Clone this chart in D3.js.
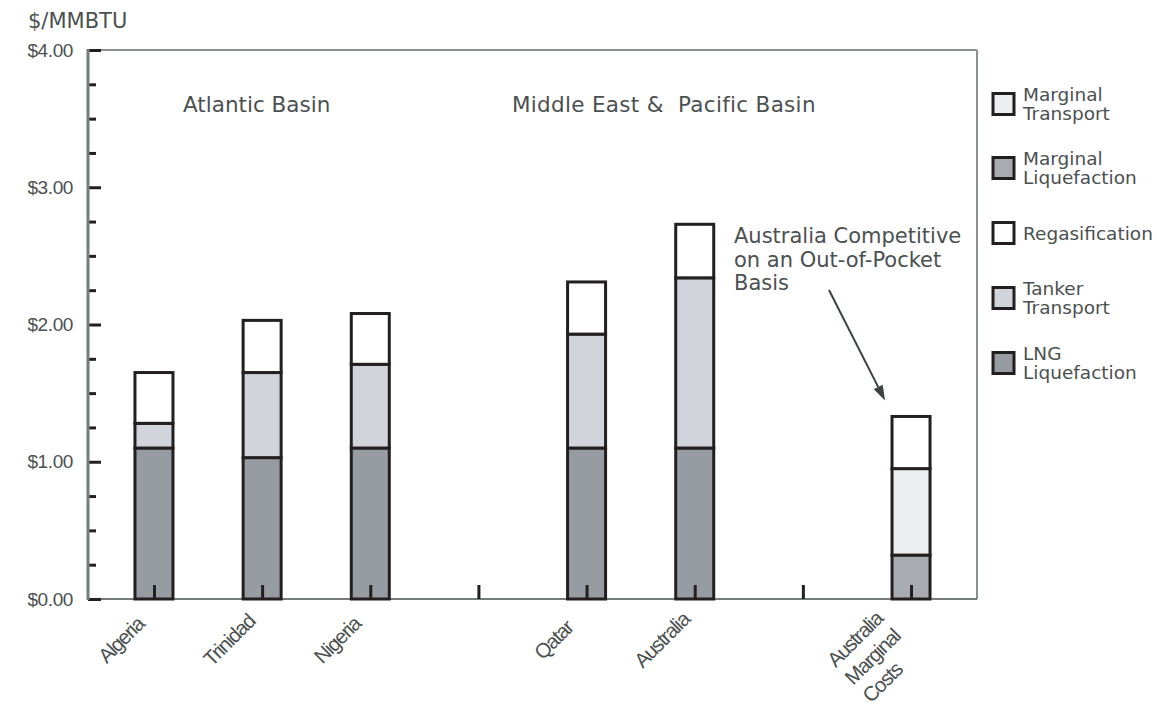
<!DOCTYPE html>
<html>
<head>
<meta charset="utf-8">
<script src="https://cdn.jsdelivr.net/npm/d3@7"></script>
<style>
  html, body { margin: 0; padding: 0; background: #fff; }
  svg { display: block; }
</style>
</head>
<body>
<svg id="chart" width="1157" height="706"></svg>
<script>
// LNG delivered cost build-up, $/MMBTU
const slots = ["Algeria", "Trinidad", "Nigeria", "gapAtlantic", "Qatar", "Australia", "gapPacific", "Australia Marginal Costs"];
const categories = ["Algeria", "Trinidad", "Nigeria", "Qatar", "Australia", "Australia Marginal Costs"];
const lngLiquefaction      = [1.10, 1.03, 1.10, 1.10, 1.10, 0.00];
const marginalLiquefaction = [0.00, 0.00, 0.00, 0.00, 0.00, 0.32];
const tankerTransport      = [0.18, 0.62, 0.61, 0.83, 1.24, 0.00];
const marginalTransport    = [0.00, 0.00, 0.00, 0.00, 0.00, 0.63];
const regasification       = [0.37, 0.38, 0.37, 0.38, 0.39, 0.38];

const yTicks = [0, 1, 2, 3, 4];
const yMinorTicks = [0.25, 0.5, 0.75, 1.25, 1.5, 1.75, 2.25, 2.5, 2.75, 3.25, 3.5, 3.75];

const seriesKeys = ["LNG Liquefaction", "Marginal Liquefaction", "Tanker Transport", "Marginal Transport", "Regasification"];
const seriesValues = [lngLiquefaction, marginalLiquefaction, tankerTransport, marginalTransport, regasification];
const colors = {
  "LNG Liquefaction": "#979ca2",
  "Marginal Liquefaction": "#a8acb0",
  "Tanker Transport": "#d1d4db",
  "Marginal Transport": "#eceef0",
  "Regasification": "#ffffff"
};
const legendOrder = [
  ["Marginal Transport", ["Marginal", "Transport"]],
  ["Marginal Liquefaction", ["Marginal", "Liquefaction"]],
  ["Regasification", ["Regasification"]],
  ["Tanker Transport", ["Tanker", "Transport"]],
  ["LNG Liquefaction", ["LNG", "Liquefaction"]]
];

const textColor = "#4b5050";
const inkColor = "#231f20";
const frameColor = "#767b7b";
const fontWide = "'DejaVu Sans', sans-serif";
const fontNarrow = "'Liberation Sans', Arial, sans-serif";

const svg = d3.select("#chart");
const plotLeft = 88, plotRight = 977, plotTop = 50, plotBottom = 599;

const x = d3.scalePoint().domain(slots).range([plotLeft, plotRight]).padding(0.61);
const y = d3.scaleLinear().domain([0, 4]).range([plotBottom, plotTop]);

// rows for stacking
const rows = categories.map((c, i) => {
  const r = { category: c };
  seriesKeys.forEach((k, j) => { r[k] = seriesValues[j][i]; });
  return r;
});
const stacked = d3.stack().keys(seriesKeys)(rows);

// frame
svg.append("line").attr("x1", plotLeft).attr("x2", plotRight).attr("y1", plotTop).attr("y2", plotTop)
  .attr("stroke", "#8b9090").attr("stroke-width", 2);
svg.append("line").attr("x1", plotRight).attr("x2", plotRight).attr("y1", plotTop).attr("y2", plotBottom)
  .attr("stroke", "#8b9090").attr("stroke-width", 2);
svg.append("line").attr("x1", plotLeft).attr("x2", plotRight).attr("y1", plotBottom).attr("y2", plotBottom)
  .attr("stroke", frameColor).attr("stroke-width", 2);

// bars
const barW = 38;
const barG = svg.append("g");
stacked.forEach(layer => {
  layer.forEach(d => {
    if (d[1] - d[0] <= 0) return;
    barG.append("rect")
      .attr("x", x(d.data.category) - barW / 2)
      .attr("y", y(d[1]))
      .attr("width", barW)
      .attr("height", y(d[0]) - y(d[1]))
      .attr("fill", colors[layer.key])
      .attr("stroke", inkColor)
      .attr("stroke-width", 3);
  });
});

// y axis (major and minor ticks point inward)
const yAxis = svg.append("g").attr("transform", `translate(${plotLeft},0)`)
  .call(d3.axisLeft(y).tickValues(yTicks).tickSizeInner(-13).tickSizeOuter(0).tickPadding(15)
    .tickFormat(d => "$" + d.toFixed(2)));
yAxis.select(".domain").remove();
yAxis.selectAll(".tick line").attr("stroke", inkColor).attr("stroke-width", 3);
yAxis.selectAll(".tick text").attr("fill", textColor).attr("font-family", fontNarrow)
  .attr("font-size", 19).attr("letter-spacing", -0.4);

const yMinor = svg.append("g").attr("transform", `translate(${plotLeft},0)`)
  .call(d3.axisLeft(y).tickValues(yMinorTicks).tickSizeInner(-8).tickSizeOuter(0).tickFormat(""));
yMinor.select(".domain").remove();
yMinor.selectAll(".tick line").attr("stroke", inkColor).attr("stroke-width", 3);

svg.append("line").attr("x1", plotLeft).attr("x2", plotLeft).attr("y1", plotTop - 1).attr("y2", plotBottom + 1)
  .attr("stroke", frameColor).attr("stroke-width", 3);

// x axis
const xAxis = svg.append("g").attr("transform", `translate(0,${plotBottom})`)
  .call(d3.axisBottom(x).tickSizeInner(-14).tickSizeOuter(0).tickFormat(""));
xAxis.select(".domain").remove();
xAxis.selectAll(".tick line").attr("stroke", inkColor).attr("stroke-width", 3);

// category labels, rotated
categories.forEach(c => {
  const lines = c === "Australia Marginal Costs" ? ["Australia", "Marginal", "Costs"] : [c];
  const t = svg.append("text")
    .attr("transform", `translate(${x(c) - 28},${plotBottom + 46}) rotate(-45)`)
    .attr("fill", textColor).attr("font-family", fontNarrow).attr("font-size", 20.5)
    .attr("letter-spacing", -1.3);
  if (lines.length === 1) {
    t.attr("text-anchor", "middle").text(c);
  } else {
    t.attr("text-anchor", "start");
    lines.forEach((ln, i) => t.append("tspan").attr("x", -50).attr("y", -17 + i * 25).text(ln));
  }
});

// axis unit
svg.append("text").attr("x", 28).attr("y", 28).attr("fill", textColor)
  .attr("font-family", fontWide).attr("font-size", 21).text("$/MMBTU");

// basin headings
svg.append("text").attr("x", 183).attr("y", 112).attr("fill", textColor)
  .attr("font-family", fontWide).attr("font-size", 21.5).text("Atlantic Basin");
svg.append("text").attr("x", 512).attr("y", 112).attr("fill", textColor)
  .attr("font-family", fontWide).attr("font-size", 21.5).attr("letter-spacing", 0.3)
  .style("white-space", "pre").text("Middle East &  Pacific Basin");

// annotation
const note = svg.append("text").attr("fill", textColor)
  .attr("font-family", fontWide).attr("font-size", 21);
["Australia Competitive", "on an Out-of-Pocket", "Basis"].forEach((ln, i) => {
  note.append("tspan").attr("x", 734).attr("y", 243 + i * 23.5).text(ln);
});

const lastCat = categories[categories.length - 1];
const lastTotal = d3.sum(seriesValues, s => s[s.length - 1]);
const tip = [x(lastCat) - 26, y(lastTotal) - 16];
const start = [829, 290];
const ang = Math.atan2(tip[1] - start[1], tip[0] - start[0]);
const headLen = 15, headHalf = 5;
const base = [tip[0] - headLen * Math.cos(ang), tip[1] - headLen * Math.sin(ang)];
svg.append("line").attr("x1", start[0]).attr("y1", start[1]).attr("x2", base[0]).attr("y2", base[1])
  .attr("stroke", "#3d4242").attr("stroke-width", 2);
svg.append("path")
  .attr("d", `M${tip[0]},${tip[1]} L${base[0] + headHalf * Math.sin(ang)},${base[1] - headHalf * Math.cos(ang)} L${base[0] - headHalf * Math.sin(ang)},${base[1] + headHalf * Math.cos(ang)} Z`)
  .attr("fill", "#3d4242");

// legend
const legendCenters = [104, 168, 233, 298, 363];
legendOrder.forEach(([key, lines], i) => {
  const cy = legendCenters[i];
  svg.append("rect").attr("x", 993).attr("y", cy - 10.5).attr("width", 21).attr("height", 21)
    .attr("fill", colors[key]).attr("stroke", inkColor).attr("stroke-width", 3);
  const lh = 19;
  const t = svg.append("text").attr("fill", textColor)
    .attr("font-family", fontWide).attr("font-size", 18.5);
  lines.forEach((ln, j) => {
    t.append("tspan").attr("x", 1023)
      .attr("y", cy + 6.5 + (j - (lines.length - 1) / 2) * lh)
      .text(ln);
  });
});
</script>
</body>
</html>
